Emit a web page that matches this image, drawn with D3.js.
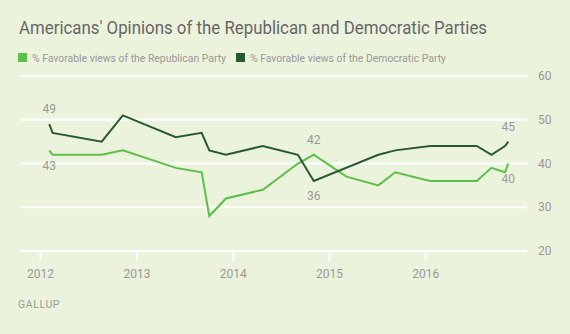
<!DOCTYPE html>
<html>
<head>
<meta charset="utf-8">
<script src="https://cdn.jsdelivr.net/npm/d3@7"></script>
<style>
  html, body { margin: 0; padding: 0; background: #ecf3dc; }
  svg { display: block; font-family: Roboto, "Noto Sans", sans-serif; }
</style>
</head>
<body>
<div id="chart"></div>
<script>
const title = "Americans' Opinions of the Republican and Democratic Parties";
const seriesNames = ["% Favorable views of the Republican Party", "% Favorable views of the Democratic Party"];

const repDates = ["2012-02-05", "2012-02-18", "2012-08-22", "2012-11-10", "2013-05-30", "2013-09-05",
  "2013-10-04", "2013-12-06", "2014-04-25", "2014-09-05", "2014-11-04", "2015-03-08", "2015-07-07",
  "2015-09-09", "2016-01-19", "2016-07-14", "2016-09-08", "2016-10-29", "2016-11-11"];
const repValues = [43, 42, 42, 43, 39, 38, 28, 32, 34, 40, 42, 37, 35, 38, 36, 36, 39, 38, 40];

const demDates = ["2012-02-05", "2012-02-18", "2012-08-22", "2012-11-10", "2013-05-30", "2013-09-05",
  "2013-10-04", "2013-12-06", "2014-04-25", "2014-09-05", "2014-11-04", "2015-07-07",
  "2015-09-09", "2016-01-19", "2016-07-14", "2016-09-08", "2016-10-29", "2016-11-11"];
const demValues = [49, 47, 45, 51, 46, 47, 43, 42, 44, 42, 36, 42, 43, 44, 44, 42, 44, 45];

const yTicks = [20, 30, 40, 50, 60];
const xTickYears = [2012, 2013, 2014, 2015, 2016];

// labelled points: [series, index, above?]
const callouts = [["rep", 0, false], ["dem", 0, true], ["rep", 10, true], ["dem", 10, false],
  ["dem", 17, true], ["rep", 18, false]];

const W = 570, H = 334;
const colors = { rep: "#5cbf4a", dem: "#285a32" };
const parse = d3.timeParse("%Y-%m-%d");

const rep = repDates.map((d, i) => ({ date: parse(d), value: repValues[i] }));
const dem = demDates.map((d, i) => ({ date: parse(d), value: demValues[i] }));
const series = { rep, dem };

const svg = d3.select("#chart").append("svg").attr("width", W).attr("height", H);
svg.append("rect").attr("width", W).attr("height", H).attr("fill", "#ecf3dc");

const x = d3.scaleTime()
  .domain([new Date(2012, 0, 1), new Date(2016, 0, 1)])
  .range([40, 425.3]);
const y = d3.scaleLinear().domain([20, 60]).range([251, 76]);

svg.append("text")
  .attr("x", 19).attr("y", 34)
  .attr("font-size", 18.5).attr("fill", "#666")
  .attr("textLength", 468).attr("lengthAdjust", "spacingAndGlyphs")
  .text(title);

// legend
const legend = svg.append("g");
const legendX = [18, 236];
const legendTextW = [194, 196];
seriesNames.forEach((name, i) => {
  const g = legend.append("g").attr("transform", `translate(${legendX[i]},53)`);
  g.append("rect").attr("width", 9).attr("height", 9).attr("fill", i === 0 ? colors.rep : colors.dem);
  g.append("text").attr("x", 14).attr("y", 8.5).attr("font-size", 11).attr("fill", "#999")
    .attr("textLength", legendTextW[i]).attr("lengthAdjust", "spacingAndGlyphs")
    .text(name);
});

// gridlines
svg.append("g")
  .selectAll("line")
  .data(yTicks)
  .join("line")
  .attr("x1", 20).attr("x2", 527)
  .attr("y1", d => y(d)).attr("y2", d => y(d))
  .attr("stroke", "#fff").attr("stroke-width", 2);

// y labels
svg.append("g")
  .selectAll("text")
  .data(yTicks)
  .join("text")
  .attr("x", 538).attr("y", d => y(d)).attr("dy", "0.35em")
  .attr("font-size", 12).attr("fill", "#999")
  .text(d => d);

// x axis
const xAxis = svg.append("g")
  .attr("transform", `translate(0,${y(20)})`)
  .call(d3.axisBottom(x)
    .tickValues(xTickYears.map(yr => new Date(yr, 0, 1)))
    .tickFormat(d3.timeFormat("%Y"))
    .tickSize(10).tickPadding(8));
xAxis.select(".domain").remove();
xAxis.selectAll(".tick line").attr("stroke", "#fff").attr("stroke-width", 2);
xAxis.selectAll(".tick text").attr("fill", "#999").attr("font-size", 12)
  .attr("font-family", "Roboto, 'Noto Sans', sans-serif");

// lines
const line = d3.line().x(d => x(d.date)).y(d => y(d.value));
[["rep", rep], ["dem", dem]].forEach(([key, data]) => {
  svg.append("path")
    .datum(data)
    .attr("fill", "none")
    .attr("stroke", colors[key])
    .attr("stroke-width", 2)
    .attr("stroke-linejoin", "miter")
    .attr("d", line);
});

// value callouts
svg.append("g")
  .selectAll("text")
  .data(callouts)
  .join("text")
  .attr("x", d => x(series[d[0]][d[1]].date))
  .attr("y", d => y(series[d[0]][d[1]].value) + (d[2] ? -15 : 15))
  .attr("dy", "0.35em")
  .attr("text-anchor", "middle")
  .attr("font-size", 12).attr("fill", "#999")
  .text(d => series[d[0]][d[1]].value);

svg.append("text")
  .attr("x", 18).attr("y", 308)
  .attr("font-size", 10.5).attr("letter-spacing", 0.6).attr("fill", "#999")
  .text("GALLUP");
</script>
</body>
</html>
